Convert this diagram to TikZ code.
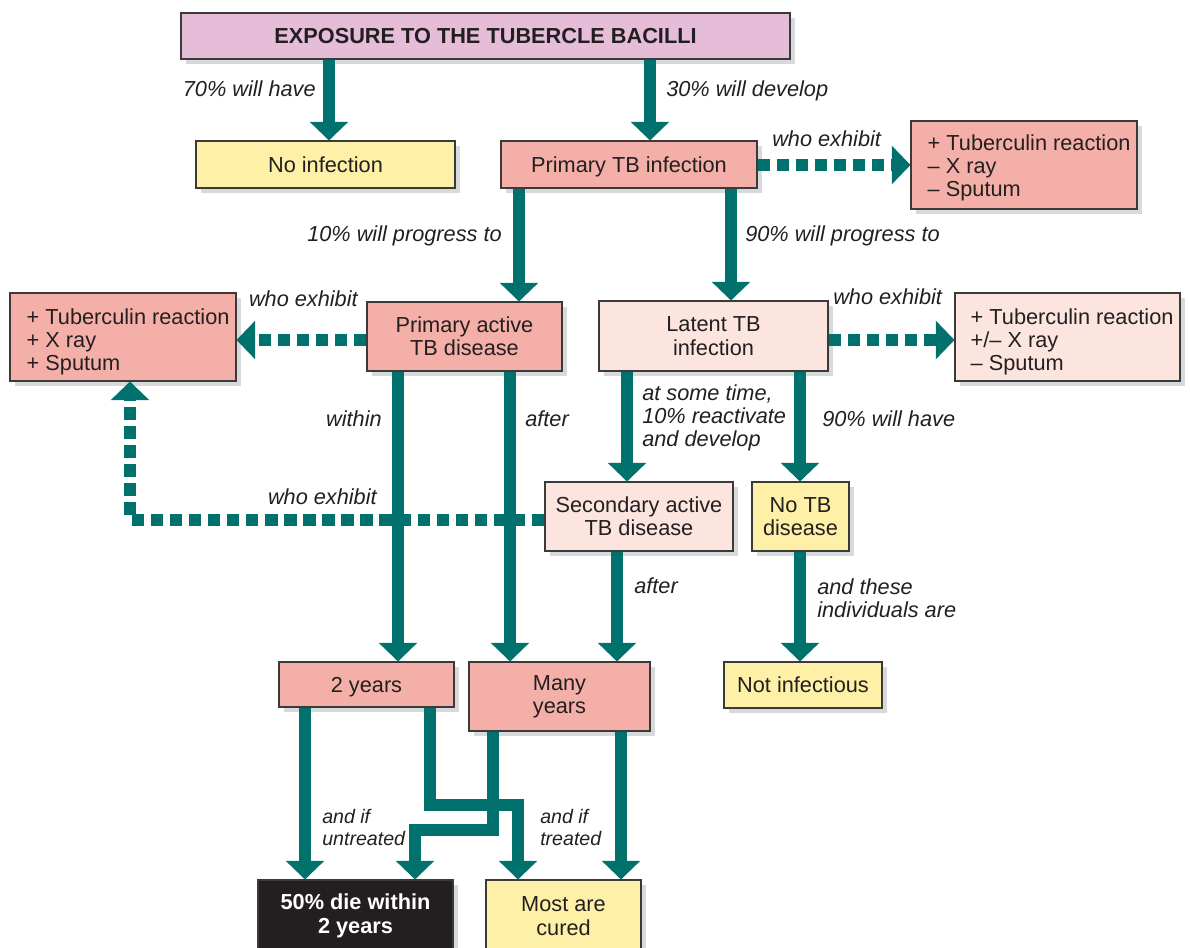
\documentclass[tikz,border=0pt]{standalone}
\usepackage{fontspec}
\setmainfont{Liberation Sans}
\usetikzlibrary{arrows.meta,shadows}
\definecolor{tbteal}{HTML}{00716D}
\definecolor{txt}{HTML}{231F20}
\definecolor{bord}{HTML}{3A3A3A}
\definecolor{shad}{HTML}{D8D9DB}
\definecolor{lav}{HTML}{E6BDD9}
\definecolor{salmon}{HTML}{F4B0A8}
\definecolor{lpink}{HTML}{FCE4DF}
\definecolor{yel}{HTML}{FEF0A6}
\definecolor{blk}{HTML}{231F20}
\begin{document}
\begin{tikzpicture}[x=0.75pt,y=-0.75pt,
  font=\fontsize{16.3}{17.5}\selectfont, text=txt,
  box/.style={draw=bord, line width=0.8pt, inner sep=0pt, align=center,
    drop shadow={shadow xshift=3.75pt, shadow yshift=-3.75pt, fill=shad, draw=none, opacity=1}},
  oneline/.style={text height=11.7pt, text depth=0pt},
  arr/.style={draw=tbteal, line width=9pt, -{Triangle[width=29pt,length=14pt,line width=0pt]}},
  dots/.style={arr, dash pattern=on 9.4pt off 4.9pt},
  lab/.style={font=\fontsize{16.3}{17.5}\selectfont\itshape, inner sep=0pt},
  slab/.style={font=\fontsize{14.7}{16.5}\selectfont\itshape, inner sep=0pt, align=left, anchor=north west},
  list/.style={inner sep=0pt, align=left, anchor=west},
]
\useasboundingbox (0,0) rectangle (1190,948);

% boxes
\node[box, oneline, fill=lav, minimum width=456.75pt, minimum height=34.5pt, font=\fontsize{16.3}{17.5}\selectfont\bfseries] (expo) at (485.5,36) {EXPOSURE TO THE TUBERCLE BACILLI};
\node[box, oneline, fill=yel, minimum width=194.25pt, minimum height=35.25pt] (noinf) at (325.5,164.5) {No infection};
\node[box, oneline, fill=salmon, minimum width=192pt, minimum height=35.25pt] (ptb) at (629,164.5) {Primary TB infection};
\node[box, fill=salmon, minimum width=169.5pt, minimum height=66pt] (trbox) at (1024,165) {};
\node[list] (trtext) at ([xshift=12.75pt,yshift=-2.25pt]trbox.west) {+ Tuberculin reaction\\– X ray\\– Sputum};
\node[box, fill=salmon, minimum width=169.5pt, minimum height=66pt] (lbox) at (123,337) {};
\node[list] (ltext) at ([xshift=12.75pt,yshift=-3.75pt]lbox.west) {+ Tuberculin reaction\\+ X ray\\+ Sputum};
\node[box, fill=salmon, minimum width=146.25pt, minimum height=51.75pt] (pad) at (464.5,336.5) {Primary active\\TB disease};
\node[box, fill=lpink, minimum width=171.75pt, minimum height=52.5pt] (latent) at (713.5,336) {Latent TB\\infection};
\node[box, fill=lpink, minimum width=168.75pt, minimum height=66pt] (rbox) at (1067.5,337) {};
\node[list] (rtext) at ([xshift=12pt,yshift=-3.75pt]rbox.west) {+ Tuberculin reaction\\+/– X ray\\– Sputum};
\node[box, fill=lpink, minimum width=141pt, minimum height=51.75pt] (sad) at (639,516.5) {Secondary active\\TB disease};
\node[box, fill=yel, minimum width=72.75pt, minimum height=51.75pt] (notb) at (800.5,516.5) {No TB\\disease};
\node[box, oneline, fill=salmon, minimum width=131.25pt, minimum height=33.75pt] (y2) at (366.5,684.5) {2 years};
\node[box, fill=salmon, minimum width=135.75pt, minimum height=51.75pt] (many) at (559.5,696.5) {Many\\years};
\node[box, oneline, fill=yel, minimum width=118.5pt, minimum height=34.5pt] (notinf) at (803,685) {Not infectious};
\node[box, fill=blk, text=white, minimum width=146.25pt, minimum height=54pt, font=\fontsize{16.3}{17.5}\selectfont\bfseries] (die) at (355.5,916) {50\% die within\\2 years};
\node[box, fill=yel, minimum width=116.25pt, minimum height=54pt] (cured) at (563.5,916) {Most are\\cured};

% solid connectors
\draw[arr] (329,0 |- expo.south) -- (329,0 |- noinf.north);
\draw[arr] (650,0 |- expo.south) -- (650,0 |- ptb.north);
\draw[arr] (519,0 |- ptb.south) -- (519,0 |- pad.north);
\draw[arr] (731,0 |- ptb.south) -- (731,0 |- latent.north);
\draw[arr] (398,0 |- pad.south) -- (398,0 |- y2.north);
\draw[arr] (510,0 |- pad.south) -- (510,0 |- many.north);
\draw[arr] (627,0 |- latent.south) -- (627,0 |- sad.north);
\draw[arr] (800,0 |- latent.south) -- (800,0 |- notb.north);
\draw[arr] (617,0 |- sad.south) -- (617,0 |- many.north);
\draw[arr] (800,0 |- notb.south) -- (800,0 |- notinf.north);
\draw[arr] (305,0 |- y2.south) -- (305,0 |- die.north);
\draw[arr] (430,0 |- y2.south) -- (430,805) -- (518,805) -- (518,0 |- cured.north);
\draw[arr] (493,0 |- many.south) -- (493,830) -- (415,830) -- (415,0 |- die.north);
\draw[arr] (621,0 |- many.south) -- (621,0 |- cured.north);

% dotted connectors
\draw[dots] (ptb.east |- 0,165) -- (trbox.west |- 0,165);
\draw[dots] (pad.west |- 0,340) -- (lbox.east |- 0,340);
\draw[dots] (latent.east |- 0,340) -- (rbox.west |- 0,340);
\draw[dots] (sad.west |- 0,520) -- (130,520) -- (130,0 |- lbox.south);

% labels
\node[lab, anchor=base east] (l1) at (316,97) {70\% will have};
\node[lab, anchor=base west] (l2) at (666,97) {30\% will develop};
\node[lab, anchor=base west] (l3) at (772,147) {who exhibit};
\node[lab, anchor=base east] (l4) at (502,242) {10\% will progress to};
\node[lab, anchor=base west] (l5) at (745,242) {90\% will progress to};
\node[lab, anchor=base east] (l6) at (358,307) {who exhibit};
\node[lab, anchor=base west] (l7) at (833,305) {who exhibit};
\node[lab, anchor=base east] (l8) at (382,427) {within};
\node[lab, anchor=base west] (l9) at (525,427) {after};
\node[lab, anchor=base east] (l10) at (377,505) {who exhibit};
\node[lab, align=left, anchor=north west] (l11) at (642,384) {at some time,\\10\% reactivate\\and develop};
\node[lab, anchor=base west] (l12) at (822,427) {90\% will have};
\node[lab, anchor=base west] (l13) at (634,594) {after};
\node[lab, align=left, anchor=north west] (l14) at (817,578) {and these\\individuals are};
\node[slab] (l15) at (322,809) {and if\\untreated};
\node[slab] (l16) at (540,809) {and if\\treated};
\end{tikzpicture}
\end{document}
